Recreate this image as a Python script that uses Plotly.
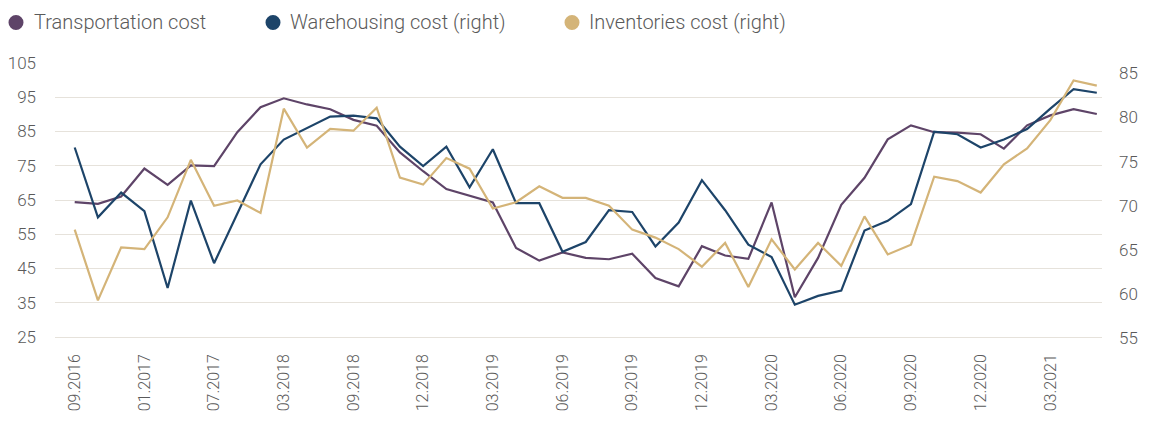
import plotly.graph_objects as go

tick_labels = ["09.2016", "01.2017", "07.2017", "03.2018", "09.2018", "12.2018", "03.2019",
               "06.2019", "09.2019", "12.2019", "03.2020", "06.2020", "09.2020", "12.2020", "03.2021"]

transport = [64.4, 63.9, 66.0, 74.2, 69.4, 75.1, 74.9, 84.8, 92.1, 94.7, 92.9, 91.5, 88.4, 86.7, 78.9,
             73.4, 68.2, 66.2, 64.3, 51.0, 47.3, 49.7, 48.1, 47.7, 49.3, 42.2, 39.8, 51.5, 48.8, 47.8,
             64.3, 36.6, 48.1, 63.6, 71.5, 82.7, 86.8, 84.8, 84.7, 84.2, 80.0, 86.8, 89.7, 91.5, 90.1]
warehousing = [76.6, 68.7, 71.5, 69.4, 60.7, 70.6, 63.5, 69.2, 74.7, 77.5, 78.8, 80.1, 80.2, 79.9, 76.7,
               74.5, 76.7, 72.1, 76.4, 70.3, 70.3, 64.8, 65.9, 69.5, 69.3, 65.4, 68.1, 72.9, 69.5, 65.6,
               64.2, 58.8, 59.8, 60.4, 67.2, 68.3, 70.2, 78.4, 78.1, 76.6, 77.5, 78.7, 81.0, 83.2, 82.8]
inventories = [67.3, 59.3, 65.3, 65.1, 68.7, 75.2, 70.0, 70.6, 69.2, 81.0, 76.6, 78.7, 78.5, 81.1, 73.2,
               72.4, 75.4, 74.2, 69.7, 70.4, 72.2, 70.9, 70.9, 70.0, 67.3, 66.4, 65.1, 63.1, 65.8, 60.8,
               66.2, 62.8, 65.8, 63.2, 68.8, 64.5, 65.6, 73.3, 72.8, 71.5, 74.7, 76.5, 79.7, 84.2, 83.6]

names = ["Transportation cost", "Warehousing cost (right)", "Inventories cost (right)"]
colors = ["#5E4468", "#1D4469", "#D4B478"]

x = list(range(len(transport)))
step = 3

# page body has an 8px default margin; size the figure so it fits the window
OFF = 8
W, H = 1152 - OFF, 423 - OFF
ML, MR = 55 - OFF, 50
MT, MB = 62 - OFF, 84
PW, PH = W - ML - MR, H - MT - MB

fig = go.Figure()
fig.add_trace(go.Scatter(x=x, y=transport, mode="lines", name=names[0],
                         line=dict(color=colors[0], width=2.2), yaxis="y"))
fig.add_trace(go.Scatter(x=x, y=warehousing, mode="lines", name=names[1],
                         line=dict(color=colors[1], width=2.2), yaxis="y2"))
fig.add_trace(go.Scatter(x=x, y=inventories, mode="lines", name=names[2],
                         line=dict(color=colors[2], width=2.2), yaxis="y2"))

font_family = "Roboto, 'Open Sans', sans-serif"
text_color = "#5A5A5A"

# legend drawn manually to match spacing (page-pixel positions)
leg_items = [(16, 32), (273, 288), (572, 587)]
leg_cy = 22.5
leg_y = (MT + PH - (leg_cy - OFF)) / PH
shapes = []
annotations = []
for (cx, tx), nm, col in zip(leg_items, names, colors):
    shapes.append(dict(type="circle", xref="paper", yref="paper",
                       xsizemode="pixel", ysizemode="pixel",
                       xanchor=(cx - OFF - ML) / PW, yanchor=leg_y,
                       x0=-7.5, x1=7.5, y0=-7.5, y1=7.5,
                       fillcolor=col, line=dict(width=0)))
    annotations.append(dict(text=nm, xref="paper", yref="paper",
                            x=(tx - OFF - ML) / PW, y=leg_y, xanchor="left", yanchor="middle",
                            showarrow=False,
                            font=dict(size=20, color=text_color, family=font_family, weight=300)))

n = len(x)
px_per = 23.23
first_px = 74.7 - OFF
last_px = 1096.8 - OFF
fig.update_layout(
    width=W, height=H,
    margin=dict(l=ML, r=MR, t=MT, b=MB, autoexpand=False),
    paper_bgcolor="white", plot_bgcolor="white",
    showlegend=False,
    font=dict(family=font_family, color=text_color),
    shapes=shapes,
    annotations=annotations,
    xaxis=dict(
        range=[-(first_px - ML) / px_per, (n - 1) + (ML + PW - last_px) / px_per],
        tickmode="array", tickvals=x[::step], ticktext=tick_labels,
        tickangle=-90, tickfont=dict(size=16, color=text_color, weight=300),
        showgrid=False, zeroline=False, showline=False, ticks="",
        ticklabelstandoff=11, automargin=False,
    ),
    yaxis=dict(
        range=[25 - 2 / 3.425, 105 + 1 / 3.425],
        tickmode="linear", tick0=25, dtick=10,
        tickfont=dict(size=17, color=text_color, weight=300),
        showgrid=True, gridcolor="#E6E2DB", gridwidth=1.3,
        zeroline=False, showline=False, ticks="",
        ticklabelstandoff=18, automargin=False,
    ),
    yaxis2=dict(
        overlaying="y", side="right",
        range=[55 - 0.7 / 8.833, 55 + 276.3 / 8.833],
        tickmode="linear", tick0=55, dtick=5,
        tickfont=dict(size=17, color=text_color, weight=300),
        showgrid=False, zeroline=False, showline=False, ticks="",
        ticklabelstandoff=16, automargin=False,
    ),
)

fig.write_html("out.html")
